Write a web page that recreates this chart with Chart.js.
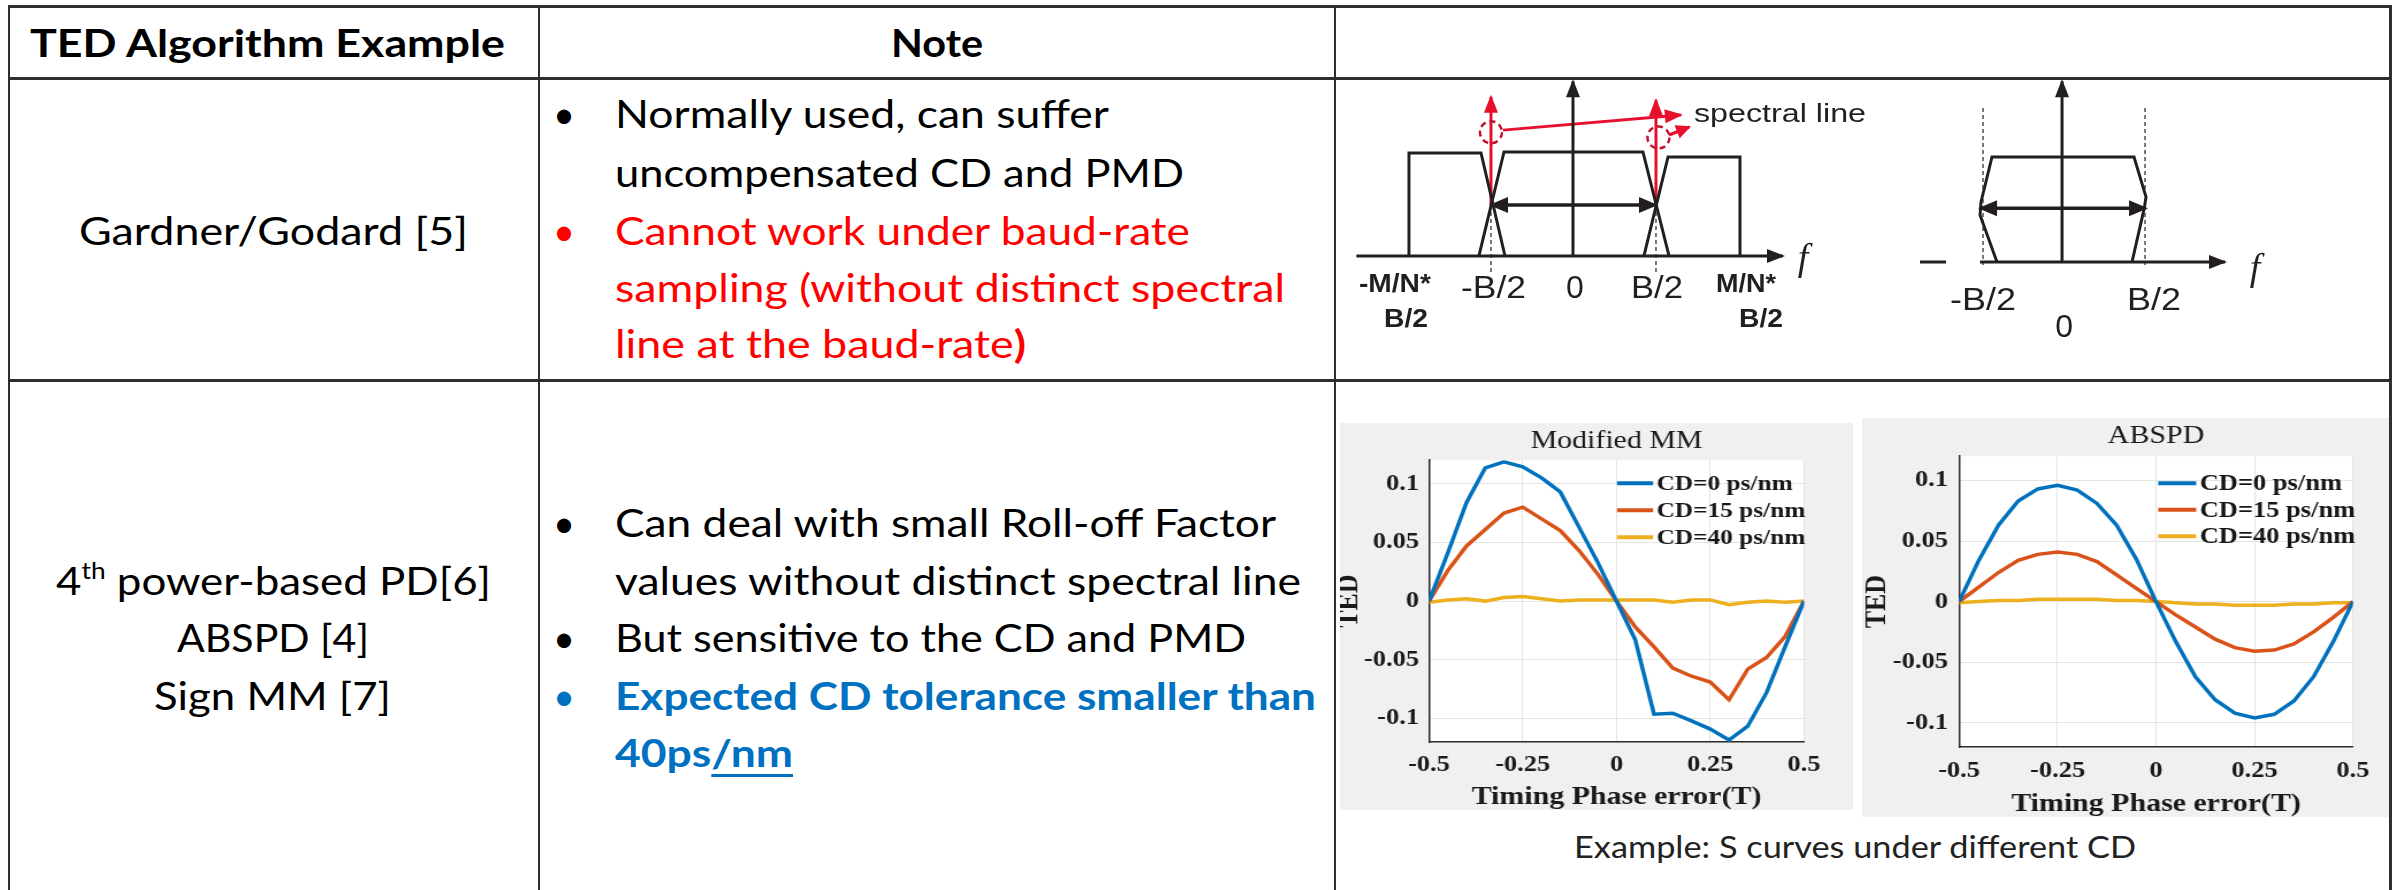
<!DOCTYPE html>
<html><head><meta charset="utf-8">
<script src="https://cdn.jsdelivr.net/npm/chart.js@4.4.1/dist/chart.umd.min.js"></script>
<style>
html,body{margin:0;padding:0;background:#fff;}
body{width:2393px;height:890px;position:relative;overflow:hidden;}
.t{position:absolute;white-space:nowrap;transform-origin:0 0;font-family:Lato,"Open Sans",sans-serif;font-size:38px;line-height:1.2;color:#000;}
.b{font-weight:bold;}
.red{color:#ff0000;}
.blue{color:#0070c0;}
.cap{color:#222;font-size:31px;}
.ln{position:absolute;background:#2f2f2f;z-index:5;}
canvas{position:absolute;}
sup{font-size:0.6em;vertical-align:0.7em;line-height:0;}
u{text-decoration-thickness:3px;text-underline-offset:7px;}
</style></head><body>
<div class="ln" style="left:8px;top:5px;width:2384px;height:3px"></div>
<div class="ln" style="left:8px;top:77px;width:2384px;height:3px"></div>
<div class="ln" style="left:8px;top:379px;width:2384px;height:3px"></div>
<div class="ln" style="left:8px;top:5px;width:2px;height:885px"></div>
<div class="ln" style="left:538px;top:5px;width:2px;height:885px"></div>
<div class="ln" style="left:1334px;top:5px;width:2px;height:885px"></div>
<div class="ln" style="left:2389px;top:5px;width:3px;height:885px"></div>
<canvas id="diag" width="1052" height="299" style="left:1337px;top:80px"></canvas>
<canvas id="c1" width="446" height="387" style="left:1340px;top:423px;width:513px;height:387px"></canvas>
<canvas id="c2" width="458" height="399" style="left:1862px;top:418px;width:527px;height:399px"></canvas>
<div id="texts"></div>
<script>
// ---------------- data ----------------
const phase = [-0.5,-0.45,-0.4,-0.35,-0.3,-0.25,-0.2,-0.15,-0.1,-0.05,0,0.05,0.1,0.15,0.2,0.25,0.3,0.35,0.4,0.45,0.5];
const mmCD0  = [0,0.041,0.084,0.1135,0.1186,0.1144,0.105,0.093,0.063,0.033,0,-0.033,-0.0963,-0.0955,-0.102,-0.109,-0.1183,-0.1065,-0.078,-0.0386,0];
const mmCD15 = [0,0.026,0.047,0.061,0.075,0.080,0.070,0.060,0.043,0.023,0,-0.022,-0.039,-0.057,-0.064,-0.069,-0.084,-0.058,-0.048,-0.030,0];
const mmCD40 = [-0.001,0.001,0.002,0,0.003,0.004,0.002,0,0.001,0.001,0.001,0.001,0.001,-0.001,0.001,0.001,-0.003,-0.001,0,-0.001,0];
const abCD0  = [0,0.034,0.063,0.083,0.093,0.096,0.092,0.081,0.063,0.035,0,-0.033,-0.062,-0.081,-0.092,-0.096,-0.093,-0.082,-0.062,-0.033,0];
const abCD15 = [0,0.012,0.024,0.034,0.039,0.041,0.039,0.033,0.022,0.011,0,-0.011,-0.021,-0.031,-0.038,-0.041,-0.040,-0.035,-0.025,-0.013,0];
const abCD40 = [-0.001,0,0.001,0.001,0.002,0.002,0.002,0.002,0.001,0.001,0,-0.001,-0.002,-0.002,-0.003,-0.003,-0.003,-0.002,-0.002,-0.001,-0.001];
const seriesNames = ['CD=0 ps/nm','CD=15 ps/nm','CD=40 ps/nm'];
const seriesColors = ['#0072BD','#D95319','#EDB120'];
const xTicks = [-0.5,-0.25,0,0.25,0.5];
const yTicks = [-0.1,-0.05,0,0.05,0.1];
const chartTitles = ['Modified MM','ABSPD'];
const xTitle = 'Timing Phase error(T)';
const yTitle = 'TED';

// spectrum diagram shapes (frequency in units of B/2, amplitude normalised)
const specAxisL   = [[-2.61,0],[2.53,0]];
const specVertL   = [[0,0],[0,1.68]];
const bandLeft    = [[-1.976,0],[-1.976,0.99],[-1.108,0.99],[-0.819,0]];
const bandCenter  = [[-1.133,0],[-0.831,1],[0.843,1],[1.157,0]];
const bandRight   = [[0.855,0],[1.145,0.952],[2.012,0.952],[2.012,0]];
const bwArrowL    = [[-0.988,0.49],[1.0,0.49]];
const dashL1      = [[-0.988,0.49],[-0.988,-0.16]];
const dashL2      = [[1.0,0.49],[1.0,-0.16]];
const specLine1   = [[-0.988,0.49],[-0.988,1.53]];
const specLine2   = [[1.0,0.49],[1.0,1.5]];
const pointer1    = [[-0.843,1.21],[1.30,1.356]];
const pointer2    = [[1.157,1.163],[1.40,1.24]];
const specAxisR0  = [[4.181,-0.058],[4.494,-0.058]];
const specAxisR   = [[4.904,-0.058],[7.855,-0.058]];
const specVertR   = [[5.892,-0.058],[5.892,1.68]];
const dashR1      = [[4.94,1.423],[4.94,-0.087]];
const dashR2      = [[6.892,1.423],[6.892,-0.087]];
const bandBaud    = [[5.108,-0.058],[4.904,0.394],[4.916,0.519],[5.048,0.952],[6.759,0.952],[6.904,0.567],[6.88,0.45],[6.735,-0.058]];
const bwArrowR    = [[4.904,0.46],[6.904,0.46]];
const ringCenters = [[-0.988,1.19],[1.03,1.14]];
const diagLabels = [
  {t:'-M/N*', x:-2.145, y:-0.346, f:'bold 25px "Liberation Sans"', w:72},
  {t:'B/2', x:-2.012, y:-0.683, f:'bold 25px "Liberation Sans"', w:44},
  {t:'-B/2', x:-0.958, y:-0.404, f:'32px "Liberation Sans"', w:65},
  {t:'0', x:0.024, y:-0.404, f:'32px "Liberation Sans"'},
  {t:'B/2', x:1.012, y:-0.404, f:'32px "Liberation Sans"', w:52},
  {t:'M/N*', x:2.084, y:-0.346, f:'bold 25px "Liberation Sans"', w:60},
  {t:'B/2', x:2.265, y:-0.683, f:'bold 25px "Liberation Sans"', w:44},
  {t:'f', x:2.77, y:-0.135, f:'italic 38px "Liberation Serif"'},
  {t:'spectral line', x:1.458, y:1.288, f:'26px "Liberation Sans"', w:172, left:true},
  {t:'-B/2', x:4.94, y:-0.519, f:'32px "Liberation Sans"', w:66},
  {t:'B/2', x:7.0, y:-0.519, f:'32px "Liberation Sans"', w:54},
  {t:'0', x:5.916, y:-0.779, f:'32px "Liberation Sans"'},
  {t:'f', x:8.217, y:-0.23, f:'italic 38px "Liberation Serif"'}
];

// table texts
const cellTexts = [
  {h:'TED Algorithm Example', x:30, y:57, w:475, c:'b'},
  {h:'Note', x:891, y:57, w:92, c:'b'},
  {h:'Gardner/Godard [5]', x:79, y:245, w:389},
  {h:'•', x:553, y:128},
  {h:'Normally used, can suffer', x:615, y:128, w:494},
  {h:'uncompensated CD and PMD', x:615, y:187, w:569},
  {h:'•', x:553, y:245, c:'red'},
  {h:'Cannot work under baud-rate', x:615, y:245, w:575, c:'red'},
  {h:'sampling (without distinct spectral', x:615, y:302, w:670, c:'red'},
  {h:'line at the baud-rate<b>)</b>', x:615, y:358, w:411, c:'red'},
  {h:'4<sup>th</sup> power-based PD[6]', x:56, y:595, w:435},
  {h:'ABSPD [4]', x:177, y:652, w:192},
  {h:'Sign MM [7]', x:154, y:710, w:237},
  {h:'•', x:553, y:537},
  {h:'Can deal with small Roll-off Factor', x:615, y:537, w:661},
  {h:'values without distinct spectral line', x:615, y:595, w:686},
  {h:'•', x:553, y:652},
  {h:'But sensitive to the CD and PMD', x:615, y:652, w:631},
  {h:'•', x:553, y:710, c:'blue'},
  {h:'Expected CD tolerance smaller than', x:615, y:710, w:701, c:'b blue'},
  {h:'40ps<u>/nm</u>', x:615, y:767, w:178, c:'b blue'},
  {h:'Example: S curves under different CD', x:1574, y:858, w:562, c:'cap'}
];

// ---------------- text placement ----------------
function placeTexts(){
  const root = document.getElementById('texts');
  cellTexts.forEach(o=>{
    const el = document.createElement('div');
    el.className = 't ' + (o.c||'');
    el.innerHTML = o.h;
    root.appendChild(el);
    const probe = document.createElement('span');
    probe.style.cssText = 'display:inline-block;width:0;height:0;vertical-align:baseline;';
    el.appendChild(probe);
    const base = probe.offsetTop;
    el.removeChild(probe);
    const nat = el.getBoundingClientRect().width;
    el.style.left = o.x + 'px';
    el.style.top = (o.y - base) + 'px';
    if (o.w) el.style.transform = 'scaleX(' + (o.w / nat) + ')';
  });
}

// ---------------- S-curve charts ----------------
function fmt(v){ return v === 0 ? '0' : String(+v.toFixed(2)); }
const bgPlugin = {id:'bgp', beforeDraw(c){
  const {ctx, chartArea:a} = c; ctx.save();
  ctx.fillStyle = '#f0f0f0'; ctx.fillRect(0,0,c.width,c.height);
  ctx.fillStyle = '#ffffff'; ctx.fillRect(a.left,a.top,a.right-a.left,a.bottom-a.top);
  ctx.restore();
}};
const legendPlugin = {id:'sLegend', afterDatasetsDraw(c, args, o){
  const {ctx, chartArea:a} = c; ctx.save();
  ctx.font = 'bold ' + o.size + 'px "Liberation Serif"'; ctx.textBaseline = 'middle';
  c.data.datasets.forEach((d,i)=>{
    const y = a.top + o.y0 + i*o.dy;
    ctx.strokeStyle = d.borderColor; ctx.lineWidth = 4;
    ctx.beginPath(); ctx.moveTo(a.left+o.x0, y); ctx.lineTo(a.left+o.x1, y); ctx.stroke();
    ctx.fillStyle = '#161616'; ctx.fillText(d.label, a.left+o.x1+3, y+1);
  });
  ctx.restore();
}};
const SX = 1.15; // horizontal stretch of the chart pictures
function sCurve(id, title, ys, g){
  return new Chart(document.getElementById(id), {
    type:'scatter',
    data:{datasets: ys.map((arr,i)=>({label:seriesNames[i], data:phase.map((x,j)=>({x:x, y:arr[j]})),
      showLine:true, borderColor:seriesColors[i], backgroundColor:seriesColors[i], borderWidth:3.5, pointRadius:0, tension:0}))},
    options:{
      responsive:false, maintainAspectRatio:false, animation:false, events:[], devicePixelRatio:1,
      layout:{padding:{left:0, right:g.right/SX, top:0, bottom:0}},
      plugins:{
        legend:{display:false}, tooltip:{enabled:false},
        title:{display:true, text:title, fullSize:false, color:'#1a1a1a',
          font:{family:'Liberation Serif', size:26, weight:'normal', lineHeight:1.2}, padding:{top:g.tt, bottom:g.tb}},
        sLegend:{x0:g.lx0/SX, x1:g.lx1/SX, y0:g.ly0, dy:g.ldy, size:g.ls}
      },
      scales:{
        x:{type:'linear', min:-0.5, max:0.5,
          afterBuildTicks:s=>{ s.ticks = xTicks.map(v=>({value:v})); },
          afterFit:s=>{ s.height = g.xh; },
          grid:{color:'#e4e4e4', lineWidth:1, drawTicks:false},
          border:{display:true, color:'#2b2b2b', width:1.5},
          ticks:{padding:g.xp, color:'#1a1a1a', maxRotation:0, autoSkip:false, callback:v=>fmt(v),
            font:{family:'Liberation Serif', size:23, weight:'bold'}},
          title:{display:true, text:xTitle, color:'#1a1a1a', padding:{top:0, bottom:0},
            font:{family:'Liberation Serif', size:26, weight:'bold', lineHeight:1}}},
        y:{type:'linear', min:-0.12, max:0.12,
          afterBuildTicks:s=>{ s.ticks = yTicks.map(v=>({value:v})); },
          afterFit:s=>{ s.width = g.yw/SX; },
          grid:{color:'#e4e4e4', lineWidth:1, drawTicks:false},
          border:{display:true, color:'#2b2b2b', width:1.5},
          ticks:{padding:g.yp/SX, color:'#1a1a1a', autoSkip:false, callback:v=>fmt(v),
            font:{family:'Liberation Serif', size:23, weight:'bold'}},
          title:{display:true, text:yTitle, color:'#1a1a1a', padding:{top:0, bottom:0},
            font:{family:'Liberation Serif', size:26, weight:'bold', lineHeight:g.ylh}}}
      }
    },
    plugins:[bgPlugin, legendPlugin]
  });
}

// ---------------- spectrum diagram ----------------
function head(ctx, p0, p1, col, L, W){
  const a = Math.atan2(p1.y-p0.y, p1.x-p0.x);
  ctx.save(); ctx.fillStyle = col; ctx.beginPath();
  ctx.moveTo(p1.x + 2*Math.cos(a), p1.y + 2*Math.sin(a));
  ctx.lineTo(p1.x - L*Math.cos(a) + W*Math.sin(a), p1.y - L*Math.sin(a) - W*Math.cos(a));
  ctx.lineTo(p1.x - L*Math.cos(a) - W*Math.sin(a), p1.y - L*Math.sin(a) + W*Math.cos(a));
  ctx.closePath(); ctx.fill(); ctx.restore();
}
const diagPlugin = {id:'diagp', afterDatasetsDraw(c){
  const {ctx, scales:{x, y}} = c;
  c.data.datasets.forEach((d,i)=>{
    if (!d.arrow) return;
    const p = c.getDatasetMeta(i).data, n = p.length, L = d.hl || 16, W = d.hw || 7;
    head(ctx, p[n-2], p[n-1], d.borderColor, L, W);
    if (d.arrow === 'both') head(ctx, p[1], p[0], d.borderColor, L, W);
  });
  ctx.save();
  ctx.strokeStyle = '#c4122f'; ctx.lineWidth = 2.5; ctx.setLineDash([6,4]);
  ringCenters.forEach(r=>{
    ctx.beginPath(); ctx.arc(x.getPixelForValue(r[0]), y.getPixelForValue(r[1]), 11, 0, Math.PI*2); ctx.stroke();
  });
  ctx.setLineDash([]);
  ctx.fillStyle = '#231f20'; ctx.textBaseline = 'alphabetic';
  diagLabels.forEach(l=>{
    ctx.font = l.f;
    const w0 = ctx.measureText(l.t).width, sx = l.w ? l.w / w0 : 1;
    const px = x.getPixelForValue(l.x), py = y.getPixelForValue(l.y);
    ctx.save(); ctx.translate(px, py); ctx.scale(sx, 1);
    ctx.fillText(l.t, l.left ? 0 : -w0/2, 0);
    ctx.restore();
  });
  ctx.restore();
}};
function seg(pts, col, w, extra){
  return Object.assign({data:pts.map(p=>({x:p[0], y:p[1]})), showLine:true, borderColor:col, backgroundColor:col,
    borderWidth:w, pointRadius:0, tension:0, borderJoinStyle:'miter'}, extra||{});
}
function drawDiagram(){
  const K = '#231f20', R = '#e8112d';
  new Chart(document.getElementById('diag'), {
    type:'scatter',
    data:{datasets:[
      seg(specAxisL, K, 3, {arrow:'end'}),
      seg(specVertL, K, 3, {arrow:'end'}),
      seg(bandLeft, K, 3), seg(bandCenter, K, 3), seg(bandRight, K, 3),
      seg(bwArrowL, K, 3.5, {arrow:'both', hl:17, hw:8}),
      seg(dashL1, K, 1.2, {borderDash:[4,3]}), seg(dashL2, K, 1.2, {borderDash:[4,3]}),
      seg(specLine1, R, 3, {arrow:'end'}), seg(specLine2, R, 3, {arrow:'end'}),
      seg(pointer1, R, 3, {arrow:'end'}), seg(pointer2, R, 3, {arrow:'end', hl:13, hw:7}),
      seg(specAxisR0, K, 3), seg(specAxisR, K, 3, {arrow:'end'}),
      seg(specVertR, K, 3, {arrow:'end'}),
      seg(dashR1, K, 1.2, {borderDash:[4,3]}), seg(dashR2, K, 1.2, {borderDash:[4,3]}),
      seg(bandBaud, K, 3),
      seg(bwArrowR, K, 3.5, {arrow:'both', hl:17, hw:8})
    ]},
    options:{responsive:false, animation:false, events:[], devicePixelRatio:1,
      layout:{padding:0},
      plugins:{legend:{display:false}, tooltip:{enabled:false}, title:{display:false}},
      scales:{x:{type:'linear', display:false, min:-2.843, max:9.831},
              y:{type:'linear', display:false, min:-1.183, max:1.692}}},
    plugins:[diagPlugin]
  });
}

function build(){
  placeTexts();
  drawDiagram();
  sCurve('c1', chartTitles[0], [mmCD0, mmCD15, mmCD40],
    {right:49, tt:3, tb:3, xh:68, yw:89, xp:9, yp:10, ylh:0.6, lx0:188, lx1:224, ly0:23, ldy:27, ls:22});
  sCurve('c2', chartTitles[1], [abCD0, abCD15, abCD40],
    {right:36, tt:3, tb:4, xh:70, yw:97, xp:10, yp:11, ylh:1, lx0:199, lx1:237, ly0:27, ldy:26.5, ls:23});
}
if (document.fonts && document.fonts.ready) document.fonts.ready.then(build); else build();
</script>
</body></html>
